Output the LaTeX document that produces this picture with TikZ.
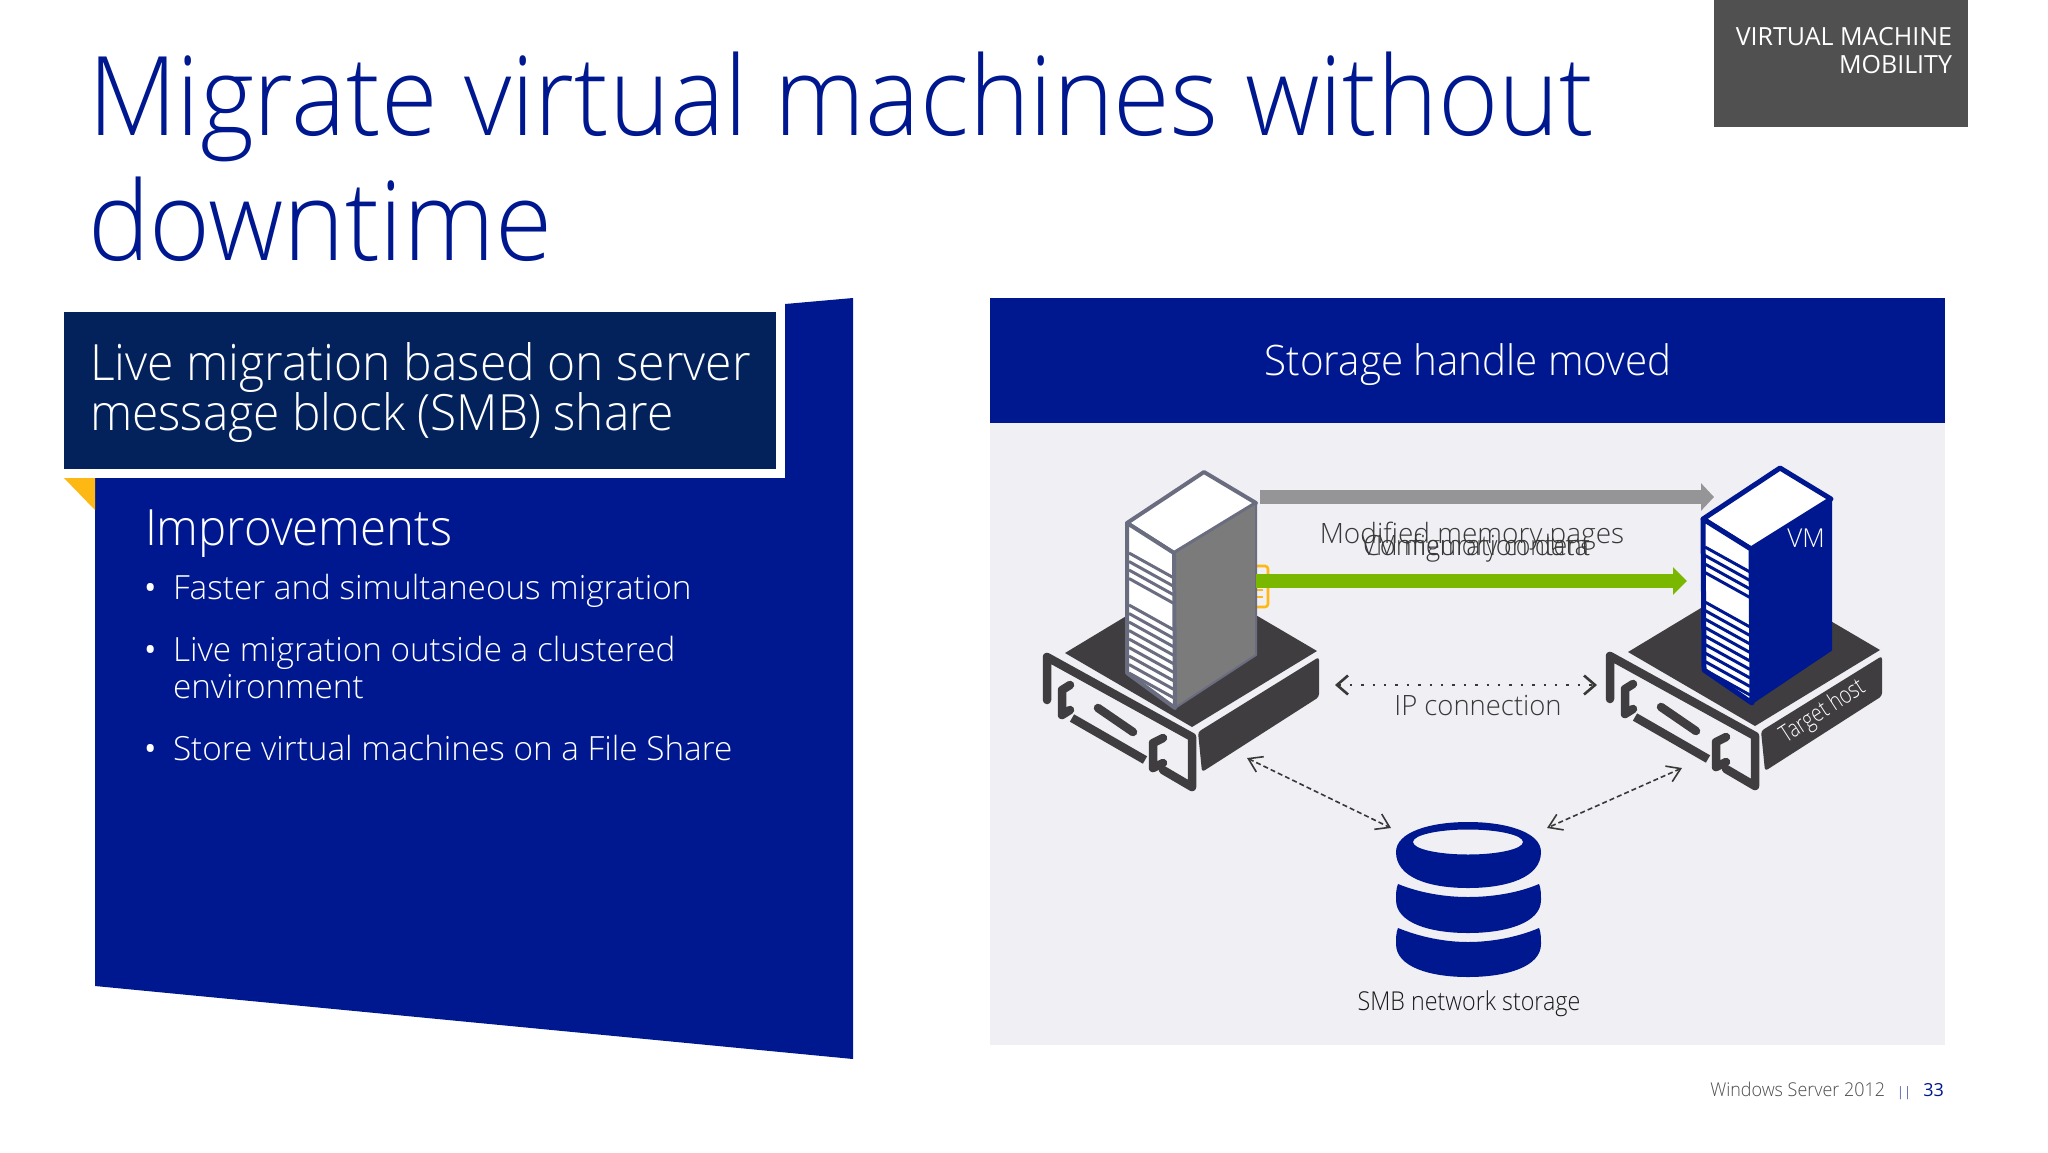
\documentclass[tikz,border=0pt]{standalone}
\usepackage{fontspec}
\usepackage{graphicx}
\setmainfont{Open Sans}
\newfontfamily\lightf{Open Sans Light}
\usetikzlibrary{arrows.meta}
\definecolor{msblue}{HTML}{00188F}
\definecolor{navybox}{HTML}{03215A}
\definecolor{panelgrey}{HTML}{F0EFF3}
\definecolor{basedark}{HTML}{3F3D40}
\definecolor{tagrey}{HTML}{505050}
\definecolor{arrowgrey}{HTML}{959497}
\definecolor{arrowgreen}{HTML}{7AB800}
\definecolor{msyellow}{HTML}{FDB813}
\definecolor{twgrey}{HTML}{7B7B7B}
\definecolor{twedge}{HTML}{6A6D80}
\definecolor{inktext}{HTML}{383838}
\newcommand{\fs}[1]{\fontsize{#1}{#1}\selectfont}
\newcommand{\sx}[2]{\scalebox{#1}[1]{#2}}
\tikzset{
  txt/.style={inner sep=0pt,outer sep=0pt},
  bulletline/.style={txt,anchor=base west,text=white,font=\lightf\fs{33.3}},
  bulletmark/.style={txt,anchor=base west,text=white,font=\fs{33}},
  difflabel/.style={txt,anchor=base,text=inktext,font=\lightf\fs{28}},
  bracket/.style={draw=basedark,line width=8.5pt,line join=round,line cap=round},
  blockgrey/.style={draw=arrowgrey,line width=14pt,-{Triangle[length=13pt,width=27pt]}},
  blockgreen/.style={draw=arrowgreen,line width=14pt,-{Triangle[length=14pt,width=27pt]}},
  dotlink/.style={draw=inktext,line width=2.4pt,dash pattern=on 2.4pt off 9pt,{Straight Barb[length=11pt,width=19pt,line width=2.6pt]}-{Straight Barb[length=11pt,width=19pt,line width=2.6pt]}},
  dashlink/.style={draw=inktext,line width=1.6pt,dash pattern=on 5pt off 3pt,{Straight Barb[length=13pt,width=17pt,line width=1.6pt]}-{Straight Barb[length=13pt,width=17pt,line width=1.6pt]}},
}
\newcommand{\serverbase}{%
  \fill[basedark] (1065,653) -- (1191,577) -- (1317,651) -- (1192,727) -- cycle;
  \fill[basedark,rounded corners=3pt] (1198,732) -- (1319,657) -- (1319,697) -- (1202,772) -- cycle;
  \draw[bracket] (1047,700) -- (1047,657) -- (1192,737) -- (1192,787) -- (1163,770);
  \draw[bracket] (1070,685) -- (1062,690) -- (1062,715) -- (1070,710);
  \draw[bracket,line cap=butt] (1072,718) -- (1145,760);
  \draw[bracket] (1098,708) -- (1133,732);
  \draw[bracket] (1163,738) -- (1153,743) -- (1153,768) -- (1163,763);
}
\newcommand{\stripes}[3]{%
  \foreach \k in {0,...,#2} {\draw[#1,line width=3pt] (1129,#3+8.5*\k) -- (1174,#3+25+8.5*\k);}
}
\begin{document}
\begin{tikzpicture}[x=1pt,y=-1pt]
\useasboundingbox (0,0) rectangle (2048,1152);
\fill[white] (0,0) rectangle (2048,1152);

% title
\node[txt,anchor=base west,text=msblue,font=\lightf\fs{110}] (title1) at (88,135) {\sx{.936}{Migrate virtual machines without}};
\node[txt,anchor=base west,text=msblue,font=\lightf\fs{110}] (title2) at (88,260) {\sx{.945}{downtime}};

% tag
\fill[tagrey] (1714,0) rectangle (1968,127);
\node[txt,anchor=base east,text=white,font=\fs{25}] (tag1) at (1952,45) {VIRTUAL MACHINE};
\node[txt,anchor=base east,text=white,font=\fs{25}] (tag2) at (1952,73) {MOBILITY};

% left card
\fill[msblue] (95,478) -- (785,478) -- (785,304) -- (853,298) -- (853,1059) -- (95,986) -- cycle;
\fill[msyellow] (64,478) -- (95,478) -- (95,510) -- cycle;
\fill[navybox] (64,312) rectangle (776,469);
\node[txt,anchor=base west,text=white,font=\lightf\fs{50}] (head1) at (90,380) {\sx{.96}{Live migration based on server}};
\node[txt,anchor=base west,text=white,font=\lightf\fs{50}] (head2) at (90,430) {\sx{.957}{message block (SMB) share}};
\node[txt,anchor=base west,text=white,font=\lightf\fs{50}] (impr) at (145,545) {\sx{.947}{Improvements}};
\node[bulletmark] (b0) at (144,599) {•};
\node[bulletline] (b1) at (173,599) {Faster and simultaneous migration};
\node[bulletmark] (b0b) at (144,661) {•};
\node[bulletline] (b2) at (173,661) {Live migration outside a clustered};
\node[bulletline] (b2b) at (173,698) {environment};
\node[bulletmark] (b0c) at (144,760) {•};
\node[bulletline] (b3) at (173,760) {Store virtual machines on a File Share};

% right panel
\fill[panelgrey] (990,423) rectangle (1945,1045);
\fill[msblue] (990,298) rectangle (1945,423);
\node[txt,anchor=base,text=white,font=\lightf\fs{42}] (phead) at (1468,375) {\sx{.96}{Storage handle moved}};

% servers
\serverbase
\begin{scope}[shift={(563,-1)}]\serverbase\end{scope}

% yellow file behind
\draw[msyellow,line width=2.6pt,rounded corners=3pt] (1250,566) -- (1268,566) -- (1268,607) -- (1250,607);
\draw[msyellow,line width=2.4pt] (1256,590) -- (1263,590) (1256,597) -- (1263,597);

% tower left
\fill[white,draw=twedge,line width=4pt,line join=round] (1127,523) -- (1204,472) -- (1256,503) -- (1174,553) -- cycle;
\fill[twgrey,draw=twedge,line width=2pt,line join=round] (1174,553) -- (1256,503) -- (1256,655) -- (1175,708) -- cycle;
\fill[white,draw=twedge,line width=4pt,line join=round] (1127,523) -- (1174,553) -- (1175,708) -- (1127,673) -- cycle;
\stripes{twedge}{3}{553}
\stripes{twedge}{8}{605}

% tower right
\begin{scope}[shift={(576,-4)}]
\fill[white,draw=msblue,line width=5pt,line join=round] (1127,523) -- (1204,472) -- (1255,503) -- (1175,553) -- cycle;
\fill[msblue,draw=msblue,line width=2pt,line join=round] (1175,553) -- (1255,503) -- (1255,654) -- (1176,707) -- cycle;
\fill[white,draw=msblue,line width=5pt,line join=round] (1127,523) -- (1175,553) -- (1176,707) -- (1128,674) -- cycle;
\stripes{msblue}{3}{551}
\stripes{msblue}{8}{606}
\end{scope}
\node[txt,anchor=base,text=white,font=\lightf\fs{26}] (vm) at (1806,547) {VM};
\node[txt,text=white,font=\lightf\fs{24},rotate=33] (target) at (1823,712) {\sx{.8}{Target host}};

% connector end points
\coordinate (gs) at (1260,497);
\coordinate (ge) at (1714,497);
\coordinate (as) at (1256,581);
\coordinate (ae) at (1687,581);
\coordinate (ips) at (1335,685);
\coordinate (ipe) at (1597,685);
\coordinate (hl) at (1247,758);
\coordinate (hr) at (1682,768);
\coordinate (dl) at (1391,828);
\coordinate (dr) at (1547,828);

\draw[blockgrey] (gs) -- (ge);
\draw[blockgreen] (as) -- (ae);
\draw[dotlink] (ips) -- (ipe);
\draw[dashlink] (hl) -- (dl);
\draw[dashlink] (hr) -- (dr);

% labels
\node[difflabel] (mmp) at (1472,543) {Modified memory pages};
\node[difflabel] (cfg) at (1476,555) {\sx{.97}{Configuration data}};
\node[difflabel] (mc) at (1476,555) {\sx{.89}{VM memory content}};
\node[difflabel] (ip) at (1478,715) {\sx{.98}{IP connection}};

% storage
\fill[msblue,even odd rule] (1396,852) .. controls (1396,832) and (1430,822) .. (1468,822) .. controls (1506,822) and (1541,832) .. (1541,852) .. controls (1541,878) and (1506,888) .. (1468,888) .. controls (1430,888) and (1396,878) .. (1396,852) -- cycle (1468,842) ellipse [x radius=55,y radius=12.5];
\fill[msblue] (1398,884) .. controls (1420,893) and (1445,897) .. (1468,897) .. controls (1492,897) and (1518,893) .. (1539,884) .. controls (1541,888) and (1541,895) .. (1541,900) .. controls (1541,923) and (1506,933) .. (1468,933) .. controls (1430,933) and (1396,923) .. (1396,900) .. controls (1396,895) and (1396,888) .. (1398,884) -- cycle;
\fill[msblue] (1398,928) .. controls (1420,937) and (1445,942) .. (1468,942) .. controls (1492,942) and (1518,937) .. (1539,928) .. controls (1541,932) and (1541,939) .. (1541,944) .. controls (1541,967) and (1506,977) .. (1468,977) .. controls (1430,977) and (1396,967) .. (1396,944) .. controls (1396,939) and (1396,932) .. (1398,928) -- cycle;
\node[txt,anchor=base,text=black!90,font=\lightf\fs{26}] (smb) at (1469,1010) {\sx{.895}{SMB network storage}};

% footer
\node[txt,anchor=base east,text=black!70,font=\lightf\fs{19}] (foot) at (1885,1096) {\sx{.944}{Windows Server 2012}};
\node[txt,anchor=base,text=msblue,font=\lightf\fs{13}] (sep) at (1904,1096) {||};
\node[txt,anchor=base east,text=msblue,font=\fs{18}] (page) at (1944,1096) {33};
\end{tikzpicture}
\end{document}
